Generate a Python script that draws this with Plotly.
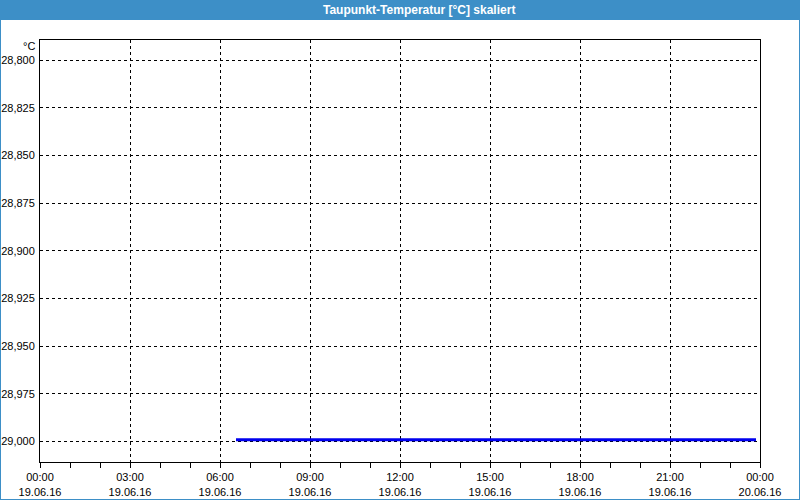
import plotly.graph_objects as go

# ---- data ----
times = ["2016-06-19 06:32", "2016-06-19 09:00", "2016-06-19 12:00", "2016-06-19 15:00",
         "2016-06-19 18:00", "2016-06-19 21:00", "2016-06-19 23:52"]
values = [-28.999, -28.999, -28.999, -28.999, -28.999, -28.999, -28.999]

x_tickvals = ["2016-06-19 00:00", "2016-06-19 03:00", "2016-06-19 06:00", "2016-06-19 09:00",
              "2016-06-19 12:00", "2016-06-19 15:00", "2016-06-19 18:00", "2016-06-19 21:00",
              "2016-06-20 00:00"]
x_ticktext = ["00:00<br>19.06.16", "03:00<br>19.06.16", "06:00<br>19.06.16", "09:00<br>19.06.16",
              "12:00<br>19.06.16", "15:00<br>19.06.16", "18:00<br>19.06.16", "21:00<br>19.06.16",
              "00:00<br>20.06.16"]
y_tickvals = [-28.8, -28.825, -28.85, -28.875, -28.9, -28.925, -28.95, -28.975, -29.0]

title_text = "Taupunkt-Temperatur [°C] skaliert"
unit_text = "°C"

W, H = 800, 500
L, R, T, B = 40, 40, 40, 38
PW, PH = W - L - R, H - T - B

def px(x):
    return (x - L) / PW

def py(y):
    return (H - B - y) / PH

FONT = "Liberation Sans"
BAR = "#3d8fc7"

fig = go.Figure()
fig.add_trace(go.Scatter(x=times, y=values, mode="lines",
                         line=dict(color="#0000ee", width=3), hoverinfo="skip"))

fig.update_layout(
    width=W, height=H,
    margin=dict(l=L, r=R, t=T, b=B, autoexpand=False),
    paper_bgcolor="white", plot_bgcolor="white",
    showlegend=False,
    separators=",.",
    font=dict(family=FONT, size=11, color="black"),
    xaxis=dict(
        type="date", automargin=False,
        range=["2016-06-19 00:00", "2016-06-20 00:00"],
        tickmode="array", tickvals=x_tickvals, ticktext=x_ticktext,
        ticks="outside", ticklen=5, tickcolor="black", tickwidth=1,
        showgrid=True, gridcolor="black", gridwidth=1, griddash="3px,3px",
        showline=True, linecolor="black", linewidth=1, mirror=True,
        zeroline=False,
        minor=dict(dtick=3600000, ticks="outside", ticklen=5, tickcolor="black",
                   showgrid=False),
        tickfont=dict(family=FONT, size=11, color="black"),
        fixedrange=True,
    ),
    yaxis=dict(
        automargin=False,
        range=[-29.0107, -28.7894],
        tickmode="array", tickvals=y_tickvals,
        tickformat=".3f",
        ticks="", showgrid=True, gridcolor="black", gridwidth=1, griddash="3px,3px",
        showline=True, linecolor="black", linewidth=1, mirror=True,
        zeroline=False, ticklabelstandoff=2,
        tickfont=dict(family=FONT, size=11, color="black"),
        fixedrange=True,
    ),
    shapes=[
        dict(type="rect", xref="paper", yref="paper",
             x0=px(0), x1=px(W), y0=py(20), y1=py(0),
             fillcolor=BAR, line=dict(width=0)),
        dict(type="line", xref="paper", yref="paper",
             x0=px(0.5), x1=px(0.5), y0=py(0), y1=py(H),
             line=dict(color=BAR, width=1)),
        dict(type="line", xref="paper", yref="paper",
             x0=px(W - 0.5), x1=px(W - 0.5), y0=py(0), y1=py(H),
             line=dict(color=BAR, width=1)),
        dict(type="line", xref="paper", yref="paper",
             x0=px(0), x1=px(W), y0=py(H - 0.5), y1=py(H - 0.5),
             line=dict(color=BAR, width=1)),
    ],
    annotations=[
        dict(text="<b>" + title_text + "</b>", xref="paper", yref="paper",
             x=px(419), y=py(10), xanchor="center", yanchor="middle",
             showarrow=False, font=dict(family=FONT, size=12, color="white")),
        dict(text=unit_text, xref="paper", yref="paper",
             x=px(37), y=py(46), xanchor="right", yanchor="middle",
             showarrow=False, font=dict(family=FONT, size=11, color="black")),
    ],
)

fig.write_html("out.html", config={"displayModeBar": False},
               post_script="document.body.style.margin='0';document.body.style.overflow='hidden';")
